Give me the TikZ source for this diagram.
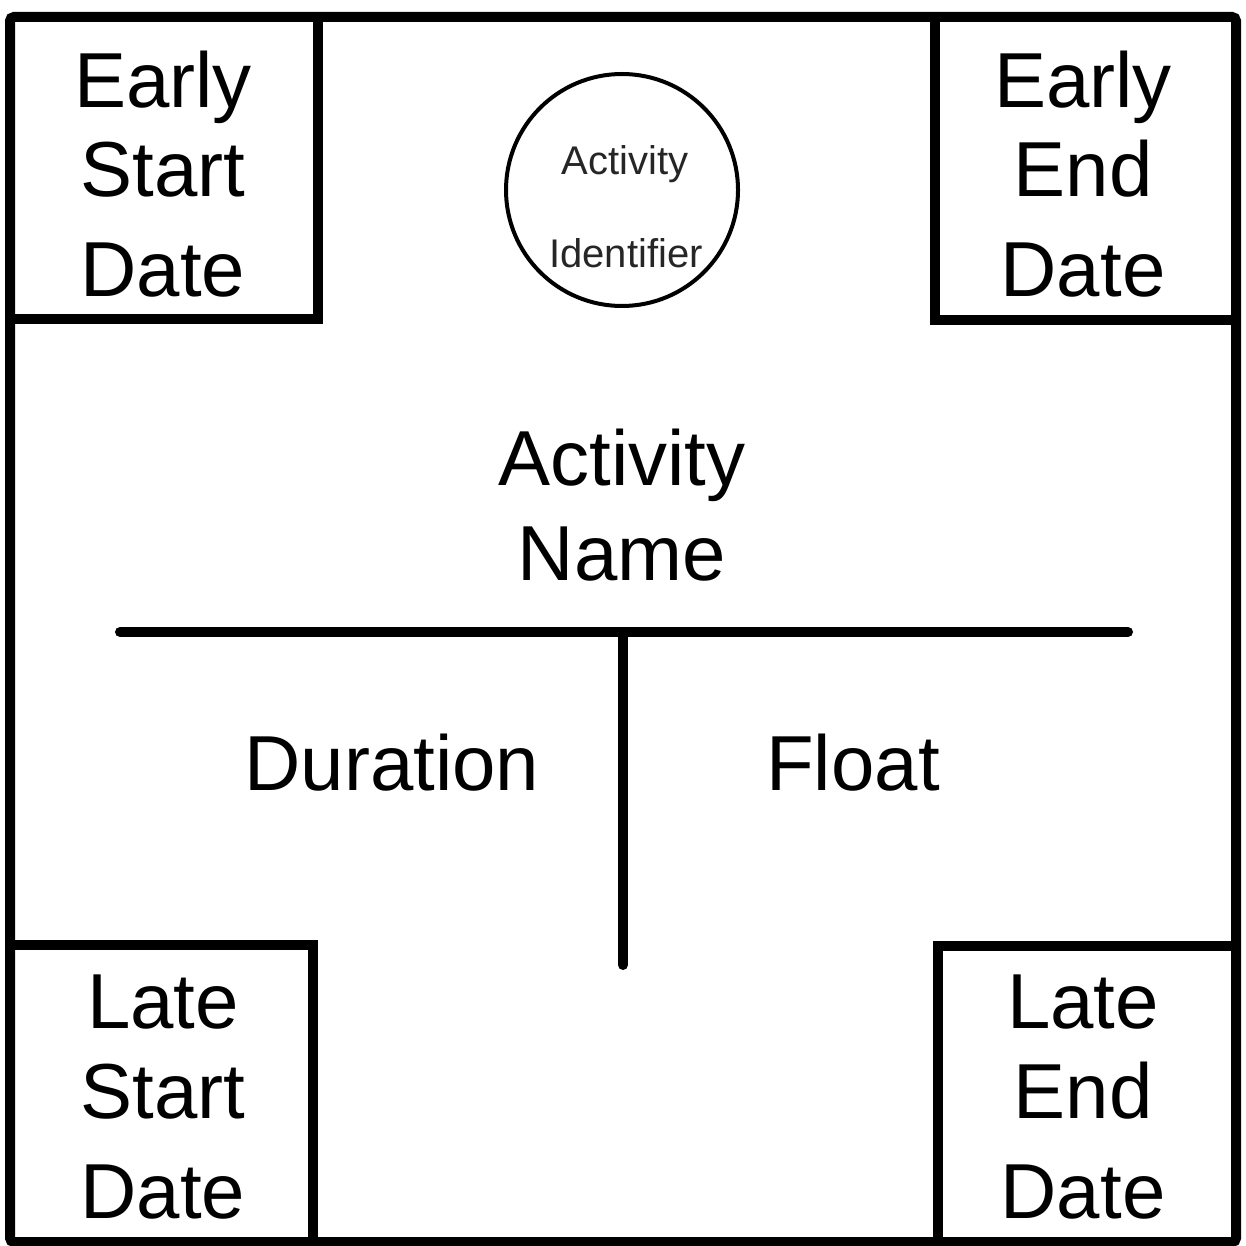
\documentclass[tikz,border=0pt]{standalone}
\usepackage{fontspec}
\setmainfont{Liberation Sans}
\begin{document}
\begin{tikzpicture}[x=1pt,y=-1pt,
  frame/.style={line width=10pt, line join=miter},
  big/.style={font=\fontsize{78}{90}\selectfont, inner sep=0pt, anchor=base},
  small/.style={font=\fontsize{40}{48}\selectfont, inner sep=0pt, anchor=base, text=black!85}]
\useasboundingbox (0,0) rectangle (1246,1246);
\fill[white] (0,0) rectangle (1246,1246);
% outer frame
\draw[frame, rounded corners=4pt] (10,17) rectangle (1236,1242);
% corner boxes
\draw[frame] (318,17) -- (318,319) -- (10,319);
\draw[frame] (935,17) -- (935,320) -- (1236,320);
\draw[frame] (10,945) -- (313,945) -- (313,1242);
\draw[frame] (1236,946) -- (938,946) -- (938,1242);
% cross lines
\coordinate (hl) at (120,632);
\coordinate (hr) at (1128,632);
\coordinate (vt) at (623,632);
\coordinate (vb) at (623,965);
\draw[line width=10pt, line cap=round] (hl) -- (hr);
\draw[line width=10pt, line cap=round] (vt) -- (vb);
% circle
\node[draw, circle, line width=4pt, minimum size=232pt, inner sep=0pt] (circ) at (622,190) {};
\node[small] (ai1) at (625,175) {Activity};
\node[small] (ai2) at (626,268) {Identifier};
% texts
\node[big] (es1) at (163,108) {Early};
\node[big] (es2) at (163,197) {Start};
\node[big] (es3) at (163,297) {Date};
\node[big] (ee1) at (1083,108) {Early};
\node[big] (ee2) at (1083,197) {End};
\node[big] (ee3) at (1083,297) {Date};
\node[big] (an1) at (622,485) {Activity};
\node[big] (an2) at (622,580) {Name};
\node[big] (dur) at (392,790) {Duration};
\node[big] (flt) at (853,790) {Float};
\node[big] (ls1) at (163,1028) {Late};
\node[big] (ls2) at (163,1118) {Start};
\node[big] (ls3) at (163,1218) {Date};
\node[big] (le1) at (1083,1028) {Late};
\node[big] (le2) at (1083,1118) {End};
\node[big] (le3) at (1083,1218) {Date};
\end{tikzpicture}
\end{document}
